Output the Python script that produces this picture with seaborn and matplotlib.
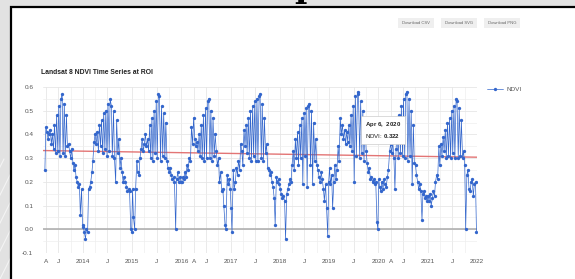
import numpy as np
import pandas as pd
import seaborn as sns
import matplotlib
matplotlib.use("Agg")
import matplotlib.pyplot as plt
from matplotlib.patches import Rectangle
from matplotlib.lines import Line2D

# ---------------- data ----------------
ACQ_DAYS = ["01-03", "01-10", "01-19", "01-26", "02-04", "02-11", "02-20", "02-27",
            "03-08", "03-15", "03-24", "03-31", "04-09", "04-16", "04-25",
            "05-02", "05-11", "05-18", "05-27", "06-03", "06-12", "06-19", "06-28",
            "07-05", "07-14", "07-21", "07-30", "08-06", "08-15", "08-22", "08-31",
            "09-07", "09-16", "09-23", "10-02", "10-09", "10-18", "10-25",
            "11-03", "11-10", "11-19", "11-26", "12-05", "12-12", "12-21", "12-28"]

NDVI_2013 = [0.25, 0.43, 0.41, 0.38, 0.40, 0.42, 0.36, 0.40, 0.34, 0.44, 0.32, 0.48,
             0.33, 0.52, 0.31, 0.55, 0.57, 0.32, 0.53, 0.31, 0.48, 0.35, 0.36, 0.33,
             0.30, 0.34, 0.28, 0.25, 0.27, 0.22, 0.20, 0.18, 0.19, 0.06, 0.17, 0.02]
NDVI_2014 = [0.01, -0.01, -0.04, 0.00, -0.01, 0.17, 0.18, 0.20, 0.24, 0.29, 0.37, 0.40,
             0.36, 0.41, 0.33, 0.44, 0.35, 0.46, 0.32, 0.49, 0.34, 0.50, 0.31, 0.53,
             0.33, 0.55, 0.52, 0.31, 0.50, 0.30, 0.20, 0.46, 0.32, 0.38, 0.26, 0.30,
             0.24, 0.20, 0.22, 0.20, 0.18, 0.16, 0.17, 0.16, 0.00, -0.01]
NDVI_2015 = [0.17, 0.05, 0.00, 0.17, 0.29, 0.24, 0.23, 0.30, 0.34, 0.38, 0.33, 0.36,
             0.40, 0.35, 0.38, 0.33, 0.44, 0.30, 0.47, 0.29, 0.50, 0.32, 0.54, 0.30,
             0.57, 0.56, 0.29, 0.52, 0.31, 0.49, 0.30, 0.45, 0.29, 0.26, 0.24, 0.26,
             0.23, 0.21, 0.22, 0.20, 0.00, 0.21, 0.24, 0.20, 0.22, 0.20]
NDVI_2016 = [0.20, 0.22, 0.21, 0.24, 0.22, 0.27, 0.25, 0.30, 0.29, 0.43, 0.36, 0.47,
             0.38, 0.35, 0.37, 0.33, 0.40, 0.31, 0.44, 0.30, 0.48, 0.29, 0.51, 0.30,
             0.54, 0.55, 0.30, 0.50, 0.29, 0.47, 0.31, 0.40, 0.33, 0.27, 0.30, 0.20,
             0.24, 0.16, 0.17, 0.10, 0.02, 0.00, 0.23, 0.19, 0.21, 0.17]
NDVI_2017 = [0.09, -0.01, 0.25, 0.17, 0.20, 0.26, 0.23, 0.29, 0.25, 0.36, 0.33, 0.27,
             0.42, 0.35, 0.44, 0.32, 0.47, 0.30, 0.50, 0.29, 0.52, 0.31, 0.54, 0.29,
             0.55, 0.29, 0.56, 0.57, 0.30, 0.53, 0.29, 0.47, 0.32, 0.36, 0.26, 0.25,
             0.23, 0.24, 0.20, 0.18, 0.13, 0.02, 0.22, 0.20, 0.21, 0.19]
NDVI_2018 = [0.17, 0.15, 0.13, 0.14, 0.12, -0.04, 0.15, 0.17, 0.19, 0.21, 0.20, 0.27,
             0.33, 0.25, 0.38, 0.30, 0.41, 0.27, 0.44, 0.30, 0.47, 0.19, 0.49, 0.31,
             0.51, 0.18, 0.52, 0.53, 0.27, 0.50, 0.19, 0.45, 0.29, 0.38, 0.27, 0.25,
             0.22, 0.20, 0.24, 0.21, 0.17, 0.12, 0.19, 0.09, -0.03, 0.20]
NDVI_2019 = [0.26, 0.19, 0.23, 0.09, 0.20, 0.27, 0.21, 0.25, 0.35, 0.29, 0.47, 0.40,
             0.44, 0.38, 0.42, 0.36, 0.41, 0.37, 0.44, 0.35, 0.48, 0.33, 0.52, 0.20,
             0.56, 0.31, 0.58, 0.57, 0.30, 0.54, 0.32, 0.50, 0.29, 0.46, 0.33, 0.28,
             0.24, 0.26, 0.21, 0.22, 0.20, 0.21, 0.19, 0.20, 0.03, 0.00]
NDVI_2020 = [0.21, 0.18, 0.16, 0.20, 0.17, 0.21, 0.19, 0.18, 0.22, 0.25, 0.33, 0.36,
             0.322, 0.37, 0.30, 0.17, 0.34, 0.42, 0.30, 0.48, 0.32, 0.52, 0.31, 0.55,
             0.30, 0.57, 0.58, 0.29, 0.55, 0.31, 0.50, 0.19, 0.44, 0.28, 0.27, 0.23,
             0.20, 0.17, 0.19, 0.16, 0.04, 0.15, 0.16, 0.13, 0.14, 0.12]
NDVI_2021 = [0.14, 0.12, 0.15, 0.10, 0.13, 0.16, 0.14, 0.20, 0.23, 0.21, 0.35, 0.27,
             0.36, 0.31, 0.39, 0.33, 0.42, 0.30, 0.45, 0.31, 0.47, 0.30, 0.50, 0.32,
             0.52, 0.30, 0.55, 0.54, 0.30, 0.51, 0.31, 0.46, 0.30, 0.33, 0.27, 0.00,
             0.23, 0.25, 0.17, 0.16, 0.20, 0.21, 0.14, 0.19, 0.20, -0.01]

YEARS = {2013: NDVI_2013, 2014: NDVI_2014, 2015: NDVI_2015, 2016: NDVI_2016,
         2017: NDVI_2017, 2018: NDVI_2018, 2019: NDVI_2019, 2020: NDVI_2020,
         2021: NDVI_2021}

TREND_DATES = ["2013-03-10", "2022-01-01"]
TREND_VALUES = [0.332, 0.304]

TICK_DATES = ["2013-04-01", "2013-07-01", "2014-01-01", "2014-07-01", "2015-01-01",
              "2015-07-01", "2016-01-01", "2016-04-01", "2016-07-01", "2017-01-01",
              "2017-07-01", "2018-01-01", "2018-07-01", "2019-01-01", "2019-07-01",
              "2020-01-01", "2020-04-01", "2020-07-01", "2021-01-01", "2021-07-01",
              "2022-01-01"]
TICK_LABELS = ["A", "J", "2014", "J", "2015", "J", "2016", "A", "J", "2017", "J",
               "2018", "J", "2019", "J", "2020", "A", "J", "2021", "J", "2022"]
Y_TICKS = [-0.1, 0.0, 0.1, 0.2, 0.3, 0.4, 0.5, 0.6]

TOOLTIP_DATE = "2020-04-06"
TOOLTIP_VALUE = 0.322

rows = []
for yr, vals in YEARS.items():
    days = ACQ_DAYS[-len(vals):]
    for d, v in zip(days, vals):
        rows.append((pd.Timestamp(f"{yr}-{d}"), v))
df = pd.DataFrame(rows, columns=["date", "NDVI"])
trend = pd.DataFrame({"date": pd.to_datetime(TREND_DATES), "trend": TREND_VALUES})

# ---------------- figure ----------------
W, H = 575, 279
FONT = "Liberation Sans"
sns.set_theme(style="white")
plt.rcParams["font.family"] = [FONT, "DejaVu Sans"]
plt.rcParams["mathtext.fontset"] = "custom"
plt.rcParams["mathtext.rm"] = FONT
plt.rcParams["mathtext.bf"] = FONT + ":bold"

fig = plt.figure(figsize=(W / 100, H / 100), dpi=100, facecolor="#e2e2e2")


def fx(px):
    return px / W


def fy(py):
    return 1 - py / H


# background decoration (left strip)
for k in range(-6, 30):
    x0 = k * 14
    fig.add_artist(Line2D([fx(x0), fx(x0 + 60)], [fy(H), fy(H - 120)],
                          color="#f4f4f4", lw=0.8, zorder=0))
# white panel with black frame
fig.add_artist(Rectangle((fx(11), fy(320)), fx(620), (320 - 7) / H,
                         facecolor="white", edgecolor="black", lw=1.6, zorder=1))
# black glyph fragment at the very top (cut off in the reference too)
fig.text(fx(294), fy(-3), "p", fontsize=24, family="DejaVu Serif",
         weight="bold", color="black", ha="left", va="baseline", zorder=3)

# download buttons
for x0, x1, lab in [(398, 434, "Download CSV"), (441, 477, "Download SVG"),
                    (484, 520, "Download PNG")]:
    fig.add_artist(Rectangle((fx(x0), fy(28)), fx(x1 - x0), 10 / H,
                             facecolor="#efefef", edgecolor="none", zorder=2))
    fig.text(fx((x0 + x1) / 2), fy(23), lab, fontsize=3.0, color="#666666",
             ha="center", va="center", zorder=3)

# title
fig.text(fx(41), fy(73), "Landsat 8 NDVI Time Series at ROI", fontsize=4.9,
         weight="bold", color="#222222", ha="left", va="center", zorder=3)

ax = fig.add_axes([fx(43), fy(253), fx(434), (253 - 87) / H])
ax.set_zorder(4)
ax.patch.set_alpha(0)

sns.lineplot(data=df, x="date", y="NDVI", ax=ax, color="#3366cc", lw=0.5,
             marker="o", markersize=2.4, markeredgewidth=0, label="NDVI",
             zorder=3)
sns.lineplot(data=trend, x="date", y="trend", ax=ax, color="#e06666", lw=1.0,
             alpha=0.9, zorder=2, legend=False)

ax.set_xlim(pd.Timestamp("2013-03-10"), pd.Timestamp("2022-01-01"))
ax.set_ylim(-0.1, 0.6)
ax.set_xticks(pd.to_datetime(TICK_DATES))
ax.set_xticklabels(TICK_LABELS)
ax.set_xticks(pd.date_range("2013-04-01", "2022-01-01", freq="QS"), minor=True)
ax.set_yticks(Y_TICKS)
ax.set_yticklabels([f"{v:.1f}" for v in Y_TICKS])
ax.set_yticks(np.arange(-0.05, 0.6, 0.1), minor=True)
ax.tick_params(axis="both", which="both", length=0, labelsize=4.6,
               labelcolor="#555555")
ax.tick_params(axis="y", pad=7)
ax.tick_params(axis="x", pad=4)
ax.grid(True, which="major", color="#e6e6e6", lw=0.6)
ax.grid(True, which="minor", color="#eeeeee", lw=0.5)
ax.axhline(0, color="#b0b0b0", lw=1.2, zorder=1)
for s in ax.spines.values():
    s.set_visible(False)
ax.set_xlabel("")
ax.set_ylabel("")

leg = ax.legend(loc="center left", bbox_to_anchor=(fx(481), fy(89)),
                bbox_transform=fig.transFigure, frameon=False, fontsize=4.6,
                handlelength=2.6, handletextpad=0.5, labelcolor="#555555")

# tooltip
ax.annotate("$\\mathbf{Apr\\ 6,\\ 2020}$\nNDVI: $\\mathbf{0.322}$",
            xy=(pd.Timestamp(TOOLTIP_DATE), TOOLTIP_VALUE),
            xytext=(-19, 9), textcoords="offset points", fontsize=4.4,
            color="#222222", ha="left", va="bottom", linespacing=1.5,
            bbox=dict(boxstyle="square,pad=0.6", fc="white", ec="#cccccc", lw=0.5),
            zorder=6)

fig.savefig("out.png", dpi=100, facecolor=fig.get_facecolor())
